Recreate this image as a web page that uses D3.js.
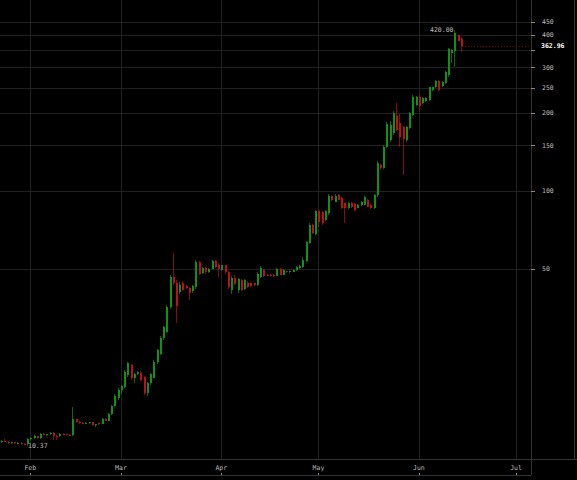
<!DOCTYPE html>
<html>
<head>
<meta charset="utf-8">
<script src="https://cdn.jsdelivr.net/npm/d3@7"></script>
<style>
html,body{margin:0;padding:0;background:#000;overflow:hidden;}
svg{display:block;}
text{font-family:"DejaVu Sans Mono",monospace;}
</style>
</head>
<body>
<div id="svg-container"></div>
<script>
const firstDay="2013-01-23";
const opens=[10.75,10.88,10.75,10.62,10.70,10.60,10.66,10.58,10.55,11.05,11.15,11.30,11.10,11.55,11.45,11.50,11.65,11.35,11.30,11.55,11.50,11.45,11.40,13.15,12.80,12.75,12.65,12.75,12.80,12.45,12.70,12.60,13.20,12.95,13.80,14.75,15.90,17.10,17.50,19.50,21.20,19.00,19.70,19.90,19.10,16.60,18.10,19.00,21.80,23.50,27.10,28.50,35.50,46.60,44.30,40.80,44.30,43.00,42.30,41.00,42.50,53.10,48.30,50.60,48.60,50.10,53.60,52.00,49.60,51.60,48.60,41.50,46.20,41.50,45.30,42.00,44.30,44.00,44.00,43.30,46.60,49.60,47.50,47.40,47.30,47.00,50.00,47.50,49.00,48.50,48.80,49.50,50.50,51.00,53.50,63.00,74.00,68.20,83.60,83.00,77.00,82.00,96.00,91.00,96.20,93.80,89.50,86.00,90.00,89.00,86.00,88.00,88.50,92.30,88.50,86.00,96.50,126,123,148,157,167,195,183,176,157,175,197,215,231,218,222,225,245,251,266,255,261,280,341,347,400,387];
const highs=[10.95,11.05,10.80,10.75,10.74,10.72,10.70,10.62,11.10,11.20,11.40,11.35,11.60,11.60,11.55,11.70,11.70,11.45,11.60,11.60,11.55,11.50,14.70,13.20,12.90,12.80,12.80,12.85,12.85,12.60,12.75,13.30,13.25,13.90,14.90,16.40,17.30,17.90,20.30,21.90,21.50,19.90,20.20,20.20,19.30,18.30,19.90,22.30,24.60,27.50,30.10,36.20,47.50,57.60,45.50,44.50,44.80,43.50,42.60,43.50,54.00,53.50,51.00,51.00,50.50,54.00,54.00,52.50,52.00,52.00,49.00,47.00,47.50,46.00,45.80,45.80,44.80,44.30,44.30,48.60,51.50,50.00,47.80,47.60,47.60,50.50,50.50,50.00,49.30,49.30,49.80,51.30,51.80,55.50,64.00,75.00,74.50,84.50,85.00,84.00,84.50,97.00,96.50,97.50,97.00,94.50,90.00,90.50,90.50,89.50,89.00,91.50,95.50,93.00,89.00,97.00,130,127,150,185,186,203,219,198,178,178,202,234,233,234,231,231,253,253,268,268,265,290,358,353,420,402,392];
const lows=[10.68,10.70,10.55,10.55,10.52,10.52,10.50,10.45,10.37,10.95,11.05,11.00,11.05,11.40,11.35,11.45,10.90,10.90,11.25,11.45,11.40,11.35,11.35,12.70,12.60,12.60,12.60,12.65,12.35,12.30,12.50,12.55,12.90,12.90,13.70,14.60,15.60,16.50,17.30,19.20,18.70,18.10,19.40,18.50,16.30,16.20,17.80,18.90,21.50,23.20,26.70,28.20,35.00,43.50,30.90,40.00,41.00,41.80,38.00,40.50,42.00,47.50,47.80,48.00,48.20,49.80,50.50,46.50,49.00,48.00,42.00,40.00,43.50,40.50,41.00,41.50,42.20,42.50,43.00,43.00,46.00,46.60,46.80,46.80,46.60,46.80,47.20,47.20,48.20,48.30,48.60,49.30,50.20,50.60,53.00,62.50,68.00,67.50,72.80,74.00,76.50,81.00,91.50,90.50,92.00,85.50,75.20,85.50,86.20,84.00,85.60,87.50,88.00,86.50,85.50,85.50,95,121,122,146,155,165,170,148,115.5,155,173,195,212,205,216,220,223,243,249,244,253,259,276,311,300,378,344];
const closes=[10.88,10.75,10.62,10.70,10.60,10.66,10.58,10.55,11.05,11.15,11.30,11.10,11.55,11.45,11.50,11.65,11.35,11.30,11.55,11.50,11.45,11.40,13.15,12.80,12.70,12.65,12.75,12.80,12.45,12.55,12.60,13.20,12.95,13.80,14.75,16.20,17.10,17.60,20.00,21.60,19.00,19.70,20.00,18.60,16.60,18.10,19.70,21.90,24.30,27.10,29.90,35.80,46.60,44.30,36.00,43.30,41.50,42.30,40.40,43.00,53.10,48.00,50.60,48.60,50.10,53.60,51.00,50.00,51.60,48.60,42.60,46.20,43.90,45.80,41.50,45.30,42.60,43.00,43.30,48.00,50.60,47.00,47.10,47.00,46.90,50.00,47.50,49.50,48.50,49.00,49.50,51.00,51.50,54.20,63.50,74.00,68.80,83.60,76.00,75.50,83.60,96.00,92.50,96.00,92.50,86.00,86.00,90.00,86.80,84.50,88.40,91.00,94.50,87.00,86.00,96.50,128,123,148,181,180,200,172,162,159,177,200,231,230,212,228,229,251,251,266,246,263,287,355,350,406,380,362.96];
const priceTicks=[50,100,150,200,250,300,350,400,450];
const monthTicks=["2013-02-01","2013-03-01","2013-04-01","2013-05-01","2013-06-01","2013-07-01"];

const w=577;
const h=480;
const plotW=531;
const plotH=459;
const axisBottomY=475;
const frameRight=574;

const parse=d3.utcParse("%Y-%m-%d");
const start=parse(firstDay);
const candles=closes.map((c,i)=>({
  date:d3.utcDay.offset(start,i),
  o:opens[i], h:highs[i], l:lows[i], c:c
}));

const xScale=d3.scaleUtc()
                .domain([parse("2013-02-01"), parse("2013-07-01")])
                .range([30.3, 516]);
const yScale=d3.scaleLog()
                .domain([9.23, 546.4])
                .range([plotH, 0]);

const svg=d3.select("#svg-container")
              .append("svg")
              .attr("width", w)
              .attr("height", h)
              .style("background", "#000");

// grid
const grid=svg.append("g").attr("shape-rendering", "crispEdges");
grid.selectAll("line.h")
    .data(priceTicks)
    .enter()
    .append("line")
    .attr("x1", 0)
    .attr("x2", plotW)
    .attr("y1", d=>Math.round(yScale(d))+0.5)
    .attr("y2", d=>Math.round(yScale(d))+0.5)
    .attr("stroke", "#212121");
grid.selectAll("line.v")
    .data(monthTicks.map(parse))
    .enter()
    .append("line")
    .attr("x1", d=>Math.round(xScale(d))+0.5)
    .attr("x2", d=>Math.round(xScale(d))+0.5)
    .attr("y1", 0)
    .attr("y2", plotH)
    .attr("stroke", "#212121");

// frame
const frame=svg.append("g").attr("stroke", "#333").attr("shape-rendering", "crispEdges");
frame.append("line").attr("x1", 0).attr("x2", w).attr("y1", plotH+0.5).attr("y2", plotH+0.5);
frame.append("line").attr("x1", plotW+0.5).attr("x2", plotW+0.5).attr("y1", 0).attr("y2", axisBottomY);
frame.append("line").attr("x1", 0).attr("x2", plotW).attr("y1", axisBottomY+0.5).attr("y2", axisBottomY+0.5);
frame.append("line").attr("x1", frameRight+0.5).attr("x2", frameRight+0.5).attr("y1", 0).attr("y2", plotH);

// candles
const up="#129212";
const down="#c01010";
const cg=svg.append("g").attr("shape-rendering", "crispEdges");
cg.selectAll("line.wick")
    .data(candles)
    .enter()
    .append("line")
    .attr("x1", d=>Math.round(xScale(d.date))+0.5)
    .attr("x2", d=>Math.round(xScale(d.date))+0.5)
    .attr("y1", d=>yScale(d.h))
    .attr("y2", d=>yScale(d.l))
    .attr("stroke", d=>d.c>=d.o?up:down)
    .attr("stroke-opacity", 0.7);
cg.selectAll("rect")
    .data(candles)
    .enter()
    .append("rect")
    .attr("x", d=>Math.round(xScale(d.date))-0.5)
    .attr("width", 2)
    .attr("y", d=>yScale(Math.max(d.o,d.c)))
    .attr("height", d=>Math.max(1, yScale(Math.min(d.o,d.c))-yScale(Math.max(d.o,d.c))))
    .attr("fill", d=>d.c>=d.o?up:down);

// last price line
const last=candles[candles.length-1];
svg.append("line")
    .attr("x1", xScale(last.date)+1)
    .attr("x2", plotW)
    .attr("y1", Math.round(yScale(last.c))+0.5)
    .attr("y2", Math.round(yScale(last.c))+0.5)
    .attr("stroke", "#8a0000")
    .attr("stroke-dasharray", "1,2");

// y axis
const yAxisG=svg.append("g");
yAxisG.selectAll("line")
    .data(priceTicks)
    .enter()
    .append("line")
    .attr("x1", plotW)
    .attr("x2", plotW+4)
    .attr("y1", d=>Math.round(yScale(d))+0.5)
    .attr("y2", d=>Math.round(yScale(d))+0.5)
    .attr("stroke", "#888")
    .attr("shape-rendering", "crispEdges");
yAxisG.selectAll("text")
    .data(priceTicks.filter(d=>Math.abs(yScale(d)-yScale(last.c))>7))
    .enter()
    .append("text")
    .text(d=>d)
    .attr("x", plotW+11)
    .attr("y", d=>yScale(d))
    .attr("dy", "0.34em")
    .attr("fill", "#bbb")
    .style("font-size", "6.5px");
svg.append("text")
    .text(d3.format(".2f")(last.c))
    .attr("x", plotW+10)
    .attr("y", yScale(last.c))
    .attr("dy", "0.34em")
    .attr("fill", "#fff")
    .style("font-size", "6.5px")
    .style("font-weight", "bold");

// x axis
const xAxisG=svg.append("g");
const months=monthTicks.map(parse);
xAxisG.selectAll("text")
    .data(months)
    .enter()
    .append("text")
    .text(d=>d3.utcFormat("%b")(d))
    .attr("x", d=>xScale(d))
    .attr("y", 470)
    .attr("text-anchor", "middle")
    .attr("fill", "#bbb")
    .style("font-size", "6.5px");
xAxisG.selectAll("line")
    .data(months)
    .enter()
    .append("line")
    .attr("x1", d=>Math.round(xScale(d))+0.5)
    .attr("x2", d=>Math.round(xScale(d))+0.5)
    .attr("y1", axisBottomY-2)
    .attr("y2", axisBottomY)
    .attr("stroke", "#888")
    .attr("shape-rendering", "crispEdges");

// max / min annotations
const maxC=candles[d3.maxIndex(candles, d=>d.h)];
const minC=candles[d3.minIndex(candles, d=>d.l)];
svg.append("text")
    .text(d3.format(".2f")(maxC.h))
    .attr("x", xScale(maxC.date)-1)
    .attr("y", yScale(maxC.h))
    .attr("dy", "0.35em")
    .attr("text-anchor", "end")
    .attr("fill", "#bbb")
    .style("font-size", "6.5px");
svg.append("text")
    .text(d3.format(".2f")(minC.l))
    .attr("x", xScale(minC.date)+1)
    .attr("y", yScale(minC.l))
    .attr("dy", "0.35em")
    .attr("fill", "#bbb")
    .style("font-size", "6.5px");
</script>
</body>
</html>
